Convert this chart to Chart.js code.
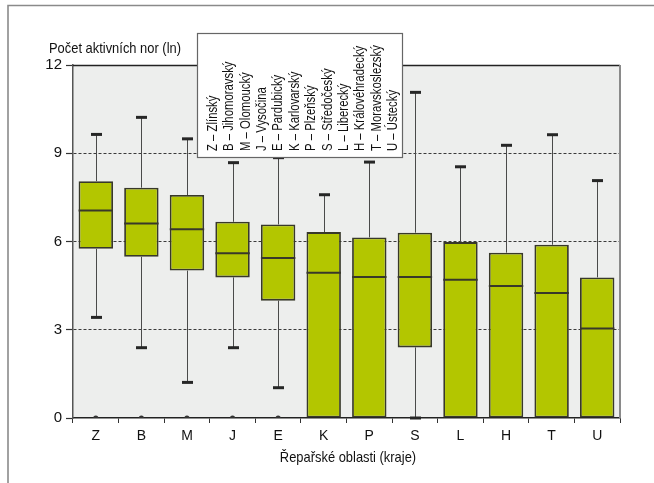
<!DOCTYPE html>
<html><head><meta charset="utf-8">
<script src="https://cdn.jsdelivr.net/npm/chart.js@4/dist/chart.umd.min.js"></script>
<style>
html,body{margin:0;padding:0;background:#fff;}
canvas{display:block}
</style>
</head><body>
<canvas id="c" width="654" height="483"></canvas>
<script>
// Sugar-beet growing regions (kraje) and their box-plot statistics, ln(active burrows)
const categories = ['Z','B','M','J','E','K','P','S','L','H','T','U'];
const regionNames = ['Zlínský','Jihomoravský','Olomoucký','Vysočina','Pardubický','Karlovarský',
  'Plzeňský','Středočeský','Liberecký','Královéhradecký','Moravskoslezský','Ústecký'];
const whiskerLow  = [3.42, 2.39, 1.21, 2.39, 1.03, 0, 0, 0, 0, 0, 0, 0];
const q1          = [5.75, 5.48, 5.01, 4.78, 3.99, 0, 0, 2.40, 0, 0, 0, 0];
const median      = [7.05, 6.61, 6.42, 5.60, 5.44, 4.94, 4.79, 4.79, 4.70, 4.49, 4.25, 3.04];
const q3          = [8.05, 7.83, 7.58, 6.67, 6.58, 6.32, 6.14, 6.30, 5.98, 5.62, 5.89, 4.78];
const whiskerHigh = [9.64, 10.22, 9.49, 8.68, 8.85, 7.59, 8.70, 11.07, 8.54, 9.27, 9.63, 8.07];
const outliers    = [0, 0, 0, 0, 0, null, null, null, null, null, null, null];
const yTicks = [0, 3, 6, 9, 12];

const FONT = "'Liberation Sans', Arial, sans-serif";
const BOX_FILL = '#b3c600';
const BOX_EDGE = '#38382a';

const boxes = categories.map((_, i) => [q1[i], q3[i]]);

// condensed text: Liberation Sans squeezed horizontally
function narrowText(ctx, text, x, y, size, align, squeeze) {
  ctx.save();
  ctx.font = size + 'px ' + FONT;
  ctx.textBaseline = 'alphabetic';
  ctx.textAlign = 'left';
  const w = ctx.measureText(text).width * squeeze;
  let x0 = x;
  if (align === 'center') x0 = x - w / 2;
  ctx.translate(x0, y);
  ctx.scale(squeeze, 1);
  ctx.fillText(text, 0, 0);
  ctx.restore();
}

const decor = {
  id: 'decor',
  beforeDraw(chart) {
    const {ctx, chartArea: a} = chart;
    ctx.save();
    // outer frame
    ctx.strokeStyle = '#8a8a8a';
    ctx.lineWidth = 1.6;
    ctx.beginPath();
    ctx.moveTo(8, 483); ctx.lineTo(8, 5.5); ctx.lineTo(654, 5.5);
    ctx.stroke();
    // plot background
    ctx.fillStyle = '#edeeed';
    ctx.fillRect(a.left, a.top, a.right - a.left, a.bottom - a.top);
    ctx.restore();
  },
  beforeDatasetsDraw(chart) {
    const {ctx} = chart;
    const xs = chart.scales.x, ys = chart.scales.y;
    ctx.save();
    categories.forEach((_, i) => {
      const x = Math.round(xs.getPixelForValue(i)) + 0.5;
      const seg = (from, to) => {
        const y0 = ys.getPixelForValue(from), y1 = ys.getPixelForValue(to);
        ctx.strokeStyle = '#4a4a4a';
        ctx.lineWidth = 1;
        ctx.beginPath(); ctx.moveTo(x, y0); ctx.lineTo(x, y1); ctx.stroke();
        ctx.strokeStyle = '#262626';
        ctx.lineWidth = 3;
        ctx.beginPath(); ctx.moveTo(x - 5.5, y1); ctx.lineTo(x + 5.5, y1); ctx.stroke();
      };
      if (whiskerHigh[i] > q3[i]) seg(q3[i], whiskerHigh[i]);
      if (whiskerLow[i] < q1[i]) seg(q1[i], whiskerLow[i]);
    });
    ctx.restore();
  },
  afterDatasetsDraw(chart) {
    // median lines across each box
    const {ctx} = chart;
    const ys = chart.scales.y;
    const meta = chart.getDatasetMeta(0);
    ctx.save();
    ctx.strokeStyle = BOX_EDGE;
    ctx.lineWidth = 2;
    meta.data.forEach((bar, i) => {
      const half = bar.width / 2;
      const y = ys.getPixelForValue(median[i]);
      ctx.beginPath(); ctx.moveTo(bar.x - half, y); ctx.lineTo(bar.x + half, y); ctx.stroke();
    });
    ctx.restore();
  },
  afterDraw(chart) {
    const {ctx, chartArea: a} = chart;
    ctx.save();
    // plot frame: top and right edges
    ctx.lineWidth = 1.5;
    ctx.strokeStyle = '#222';
    ctx.beginPath(); ctx.moveTo(a.left, a.top + 0.5); ctx.lineTo(a.right, a.top + 0.5); ctx.stroke();
    ctx.strokeStyle = '#8a8a8a';
    ctx.lineWidth = 2;
    ctx.beginPath(); ctx.moveTo(a.right, a.top); ctx.lineTo(a.right, a.bottom); ctx.stroke();

    // axis titles
    ctx.fillStyle = '#111';
    narrowText(ctx, 'Počet aktivních nor (ln)', 49, 53, 14.5, 'left', 0.89);
    narrowText(ctx, 'Řepařské oblasti (kraje)', 348, 462, 14.5, 'center', 0.89);

    // region key
    const bx = 197, by = 33, bw = 205, bh = 124;
    ctx.fillStyle = '#fff';
    ctx.fillRect(bx, by, bw, bh);
    ctx.strokeStyle = '#666';
    ctx.lineWidth = 1.2;
    ctx.strokeRect(bx + 0.5, by + 0.5, bw, bh);
    ctx.fillStyle = '#111';
    categories.forEach((c, i) => {
      ctx.save();
      ctx.translate(217 + i * 16.36, 151);
      ctx.rotate(-Math.PI / 2);
      narrowText(ctx, c + ' – ' + regionNames[i], 0, 0, 14, 'left', 0.81);
      ctx.restore();
    });
    ctx.restore();
  }
};

new Chart(document.getElementById('c'), {
  data: {
    labels: categories,
    datasets: [
      { type: 'bar', data: boxes, backgroundColor: BOX_FILL, borderColor: BOX_EDGE,
        borderWidth: 1.8, borderSkipped: false, order: 2,
        barPercentage: 0.755, categoryPercentage: 1 },
      { type: 'line', data: outliers, showLine: false, pointRadius: 2.6, pointBorderWidth: 0,
        pointBackgroundColor: '#333', order: 0 }
    ]
  },
  options: {
    responsive: false,
    animation: false,
    devicePixelRatio: 1,
    layout: { padding: { left: 0, top: 65, right: 34, bottom: 0 } },
    plugins: { legend: { display: false }, tooltip: { enabled: false } },
    scales: {
      x: {
        afterFit(s) { s.height = 65; },
        border: { color: '#222', width: 1.5 },
        grid: { offset: true, drawOnChartArea: false, drawTicks: true, tickLength: 5,
                tickColor: '#333', tickWidth: 1 },
        ticks: { color: '#111', padding: 5, font: { family: FONT, size: 14 } }
      },
      y: {
        min: 0, max: 12,
        afterFit(s) { s.width = 73; },
        afterBuildTicks(s) { s.ticks = yTicks.map(v => ({ value: v })); },
        border: { color: '#555', width: 1.5, dash: [3, 2] },
        grid: {
          color: (c) => (c.tick && (c.tick.value === 0 || c.tick.value === 12)) ? 'rgba(0,0,0,0)' : '#3a3a3a',
          lineWidth: 1,
          drawTicks: true, tickLength: 7, tickColor: '#333', tickBorderDash: [], tickWidth: 1.2
        },
        ticks: { color: '#111', padding: 4, font: { family: FONT, size: 15 } }
      }
    }
  },
  plugins: [decor]
});
</script>
</body></html>
